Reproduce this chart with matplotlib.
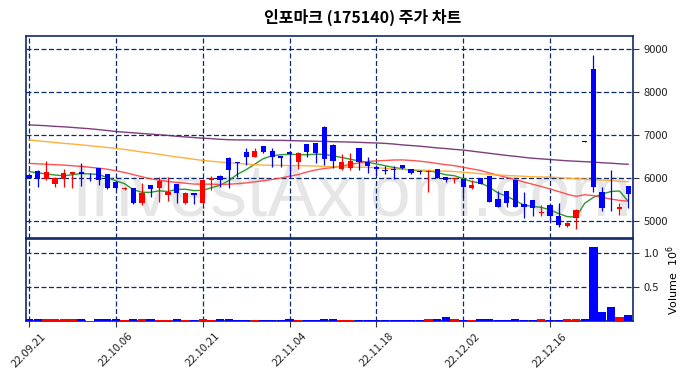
import numpy as np
import pandas as pd
import matplotlib
matplotlib.use('Agg')
import matplotlib.pyplot as plt

plt.rcParams['font.family'] = ['Noto Sans CJK KR', 'DejaVu Sans']

# 거래일 (22.09.21 ~ 22.12.29)
dates = ['22.09.21', '22.09.22', '22.09.23', '22.09.26', '22.09.27', '22.09.28', '22.09.29', '22.09.30',
         '22.10.04', '22.10.05', '22.10.06', '22.10.07', '22.10.11', '22.10.12', '22.10.13', '22.10.14',
         '22.10.17', '22.10.18', '22.10.19', '22.10.20', '22.10.21', '22.10.24', '22.10.25', '22.10.26',
         '22.10.27', '22.10.28', '22.10.31', '22.11.01', '22.11.02', '22.11.03', '22.11.04', '22.11.07',
         '22.11.08', '22.11.09', '22.11.10', '22.11.11', '22.11.14', '22.11.15', '22.11.16', '22.11.17',
         '22.11.18', '22.11.21', '22.11.22', '22.11.23', '22.11.24', '22.11.25', '22.11.28', '22.11.29',
         '22.11.30', '22.12.01', '22.12.02', '22.12.05', '22.12.06', '22.12.07', '22.12.08', '22.12.09',
         '22.12.12', '22.12.13', '22.12.14', '22.12.15', '22.12.16', '22.12.19', '22.12.20', '22.12.21',
         '22.12.22', '22.12.23', '22.12.26', '22.12.27', '22.12.28', '22.12.29']

opens = [6070, 6170, 5970, 5870, 5985, 6100, 6140, 6110, 6225, 6095,
         5915, 5750, 5760, 5425, 5830, 5760, 5615, 5860, 5410, 5650,
         5410, 5950, 6050, 6470, 6370, 6600, 6500, 6745, 6630, 6510,
         6600, 6365, 6790, 6815, 7195, 6770, 6200, 6225, 6690, 6380,
         6250, 6185, 6200, 6300, 6200, 6170, 6150, 6200, 6025, 5970,
         5970, 5760, 6000, 6045, 5505, 5700, 5955, 5400, 5490, 5180,
         5385, 5115, 4885, 5060, 6850, 8530, 5680, 5265, 5270, 5810]
highs = [6080, 6180, 6400, 6020, 6200, 6150, 6340, 6120, 6230, 6100,
         5920, 5800, 5770, 5880, 5840, 6030, 6030, 5870, 5680, 5660,
         5970, 6050, 6060, 6480, 6380, 6690, 6690, 6750, 6690, 6520,
         6610, 6600, 6800, 6820, 7200, 6780, 6560, 6580, 6700, 6485,
         6300, 6280, 6270, 6310, 6210, 6180, 6180, 6210, 6030, 6010,
         5980, 5955, 6010, 6050, 5700, 5710, 5960, 5680, 5500, 5370,
         5400, 5410, 4980, 5270, 6850, 8860, 5800, 6190, 5410, 5820]
lows = [5990, 5790, 5960, 5800, 5790, 5760, 5810, 5940, 5840, 5750,
        5740, 5730, 5400, 5370, 5555, 5450, 5470, 5410, 5400, 5395,
        5390, 5720, 5800, 5775, 6015, 6300, 6490, 6570, 6260, 6265,
        6030, 6210, 6490, 6340, 6300, 6225, 6190, 6180, 6185, 6110,
        6070, 6100, 5970, 6220, 6100, 6100, 5680, 5990, 5910, 5880,
        5570, 5755, 5850, 5440, 5330, 5330, 5330, 5080, 5115, 5115,
        5000, 4870, 4870, 4805, 6830, 5680, 5235, 5240, 5140, 5295]
closes = [6010, 5970, 6150, 6010, 6120, 6140, 6100, 6110, 5945, 5760,
          5760, 5770, 5410, 5645, 5755, 5935, 5685, 5660, 5660, 5600,
          5955, 5995, 5955, 6185, 6350, 6490, 6630, 6610, 6500, 6470,
          6555, 6575, 6600, 6575, 6435, 6400, 6380, 6390, 6380, 6280,
          6210, 6170, 6190, 6225, 6110, 6150, 6170, 5995, 5955, 6000,
          5800, 5830, 5860, 5450, 5335, 5410, 5335, 5320, 5310, 5215,
          5120, 4910, 4960, 5255, 6830, 5800, 5295, 5250, 5320, 5630]
volumes = [30000, 25000, 20000, 18000, 22000, 20000, 24000, 15000, 20000, 22000,
           18000, 15000, 25000, 20000, 18000, 17000, 16000, 18000, 15000, 16000,
           20000, 17000, 18000, 20000, 16000, 15000, 17000, 16000, 15000, 14000,
           18000, 16000, 15000, 16000, 22000, 18000, 17000, 16000, 15000, 16000,
           14000, 15000, 15000, 17000, 16000, 15000, 18000, 20000, 60000, 22000,
           17000, 16000, 18000, 20000, 17000, 16000, 18000, 15000, 16000, 18000,
           17000, 16000, 20000, 25000, 22000, 1080000, 124000, 206000, 59000, 84000]

# 이동평균 앞부분 (차트 이전 데이터 필요 구간) - 그림에서 읽은 값
ma5_head = [6150, 6120, 6095, 6070]
ma20_head = [6340, 6330, 6320, 6310, 6300, 6285, 6270, 6250, 6230, 6205,
             6170, 6130, 6080, 6030, 5980, 5950, 5920, 5900, 5880]
ma60 = [6885, 6865, 6845, 6825, 6805, 6790, 6770, 6750, 6730, 6710,
        6690, 6665, 6635, 6605, 6580, 6550, 6520, 6490, 6465, 6435,
        6410, 6390, 6370, 6355, 6340, 6325, 6310, 6300, 6295, 6295,
        6290, 6290, 6285, 6280, 6270, 6265, 6260, 6255, 6250, 6250,
        6240, 6225, 6210, 6200, 6190, 6185, 6175, 6165, 6160, 6150,
        6135, 6120, 6100, 6085, 6070, 6060, 6050, 6040, 6030, 6025,
        6020, 6010, 5995, 5985, 5975, 5965, 5955, 5940, 5925, 5915]
ma120 = [7235, 7225, 7215, 7200, 7190, 7175, 7160, 7145, 7125, 7105,
         7080, 7065, 7050, 7035, 7020, 7005, 6990, 6970, 6955, 6940,
         6925, 6915, 6900, 6890, 6885, 6885, 6880, 6880, 6875, 6875,
         6870, 6865, 6860, 6855, 6850, 6845, 6840, 6835, 6830, 6820,
         6815, 6805, 6790, 6770, 6755, 6740, 6720, 6700, 6685, 6665,
         6650, 6625, 6600, 6575, 6550, 6525, 6505, 6480, 6460, 6445,
         6430, 6415, 6400, 6390, 6380, 6370, 6355, 6345, 6330, 6320]

df = pd.DataFrame({'Open': opens, 'High': highs, 'Low': lows, 'Close': closes, 'Volume': volumes})
x = np.arange(len(df))

ma5 = df.Close.rolling(5).mean().values
ma5[:len(ma5_head)] = ma5_head
ma20 = df.Close.rolling(20).mean().values
ma20[:len(ma20_head)] = ma20_head

up = df.Close > df.Open
candle_col = np.where(up, '#ff0000', '#0000ff')
vol_col = np.where(up, '#ff0000', np.where(df.Close < df.Open, '#0000ff', '#ffffff'))

navy = '#0f2a6a'

fig = plt.figure(figsize=(6.9, 3.78), dpi=100)
ax = fig.add_axes([0.0377, 0.3696, 0.8797, 0.5352])
ax2 = fig.add_axes([0.0377, 0.1516, 0.8797, 0.2153], sharex=ax)

# 워터마크 (캔들 뒤)
ax.text(0.510, 0.431, 'InvestAxiom.com', fontsize=53, color='#e6e6e6',
        family='Liberation Sans', ha='center', va='baseline', zorder=0,
        transform=fig.transFigure)

ax.plot(x, ma5, color='#2e9a2e', lw=1.0, zorder=2)
ax.plot(x, ma20, color='#ff4040', lw=1.0, alpha=0.9, zorder=2)
ax.plot(x, ma60, color='#ffa726', lw=1.0, alpha=0.9, zorder=2)
ax.plot(x, ma120, color='#6e2a6e', lw=1.0, alpha=0.9, zorder=2)

ax.vlines(x, df.Low, df.High, color=candle_col, lw=0.9, zorder=3)
body = np.maximum((df.Close - df.Open).abs(), 15)
ax.bar(x, body, bottom=np.minimum(df.Open, df.Close), width=0.6, color=candle_col, zorder=4)

ax2.bar(x, df.Volume / 1e6, width=0.95, color=vol_col, zorder=3)

ax.set_xlim(-0.35, 69.56)
ax.set_ylim(4600, 9300)
ax2.set_ylim(0, 1.2)
ax.set_yticks([5000, 6000, 7000, 8000, 9000])
ax2.set_yticks([0.5, 1.0])
ax2.set_xticks(x[::10])
ax2.set_xticklabels(dates[::10], rotation=45, ha='center')

for a in (ax, ax2):
    a.grid(True, ls=(0, (4, 2)), color=navy, lw=0.9, zorder=1)
    a.yaxis.tick_right()
    a.tick_params(axis='both', colors='#333333', labelsize=8, length=4, labelcolor='#222222')
    for s in a.spines.values():
        s.set_color(navy)
        s.set_linewidth(1.2)
plt.setp(ax.get_xticklabels(), visible=False)
ax.tick_params(axis='x', length=0)

ax2.yaxis.set_label_position('right')
ax2.set_ylabel('Volume  $10^{6}$', fontsize=8, family='DejaVu Sans', labelpad=4)

fig.text(0.525, 0.955, '인포마크 (175140) 주가 차트', fontsize=11.5, ha='center', va='center',
         fontweight='bold')

fig.savefig('out.png', dpi=100)
